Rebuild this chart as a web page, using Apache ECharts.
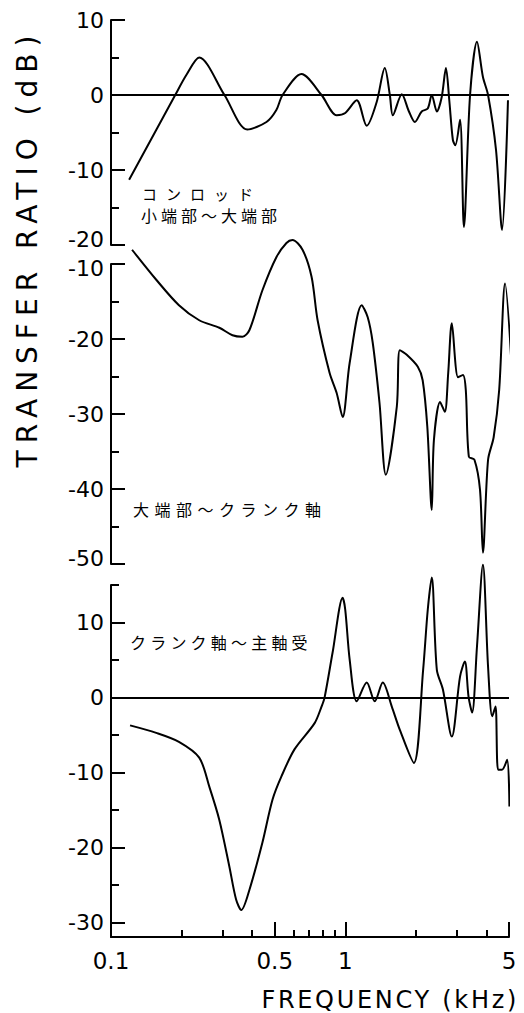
<!DOCTYPE html>
<html><head><meta charset="utf-8">
<script src="https://cdn.jsdelivr.net/npm/echarts@6/dist/echarts.min.js"></script>
<style>html,body{margin:0;padding:0;background:#fff}#c{width:524px;height:1013px}</style>
</head><body><div id="c"></div>
<script>
// ---------- data (frequency in kHz, transfer ratio in dB) ----------
const freq1 = [0.1195,0.188,0.21,0.238,0.305,0.382,0.461,0.508,0.540,0.650,0.792,0.919,1.0,1.119,1.235,1.36,1.475,1.55,1.596,1.743,1.87,1.982,2.12,2.25,2.34,2.46,2.58,2.69,2.78,2.88,2.95,3.09,3.21,3.41,3.65,3.87,4.07,4.4,4.67,4.95];
const ratio1 = [-11.3,0,2.7,5.0,0,-4.6,-3.6,-2.0,0,2.8,0,-2.7,-2.4,-0.7,-4.1,-1.0,3.6,0,-2.7,0.1,-2.2,-3.6,-2.2,-1.8,0,-2.2,-0.3,3.6,-0.7,-6,-6.7,-3.3,-17.6,0,7.1,2.4,0,-7.3,-18,-0.7];

const freq2 = [0.123,0.156,0.195,0.238,0.290,0.330,0.364,0.390,0.443,0.508,0.561,0.595,0.657,0.718,0.762,0.857,0.919,0.975,1.044,1.175,1.247,1.31,1.40,1.49,1.66,1.71,1.83,2.04,2.14,2.24,2.34,2.39,2.54,2.66,2.75,2.85,3.03,3.18,3.27,3.37,3.56,3.76,3.87,4.07,4.3,4.54,4.81,5.15];
const ratio2 = [-8.1,-12.1,-15.5,-17.5,-18.5,-19.5,-19.7,-18.8,-13.5,-9.1,-7.2,-6.8,-8.1,-11.7,-17.5,-24.5,-27.2,-30.4,-23.2,-15.5,-17.1,-20.5,-28.5,-38.1,-29,-21.5,-22.1,-23.7,-25.5,-31.7,-42.8,-33.5,-28.4,-29.7,-24.6,-17.9,-25.1,-24.8,-26.8,-35.7,-36.1,-40.1,-48.5,-36.1,-33.1,-26.8,-12.6,-24.5];

const freq3 = [0.1206,0.156,0.195,0.238,0.263,0.290,0.320,0.342,0.360,0.390,0.443,0.489,0.534,0.607,0.74,0.792,0.816,0.883,0.975,1.0,1.044,1.119,1.235,1.336,1.446,1.58,1.71,1.963,2.15,2.25,2.34,2.46,2.61,2.85,3.09,3.24,3.36,3.48,3.65,3.87,4.07,4.24,4.38,4.49,4.67,4.91,5.02];
const ratio3 = [-3.7,-4.7,-5.9,-8,-11.9,-16.3,-22.5,-26.9,-28.3,-25.6,-19.3,-13.6,-10.5,-6.9,-3.4,-1.2,0,6,13.3,11.7,5.1,-0.5,2,-0.5,2,-1.2,-4.3,-8.7,3.7,11.7,16,3.7,1.1,-5.2,2.8,4.8,0.1,-2,6.8,17.7,4.1,-2.5,-1.2,-9.6,-9.6,-8.3,-14.5];

// ---------- tick values / labels ----------
const xMinorTicks = [0.2,0.3,0.4,0.6,0.7,0.8,0.9,2,3,4];
const xMajorTicks = [0.5,1,5];
const xTickLabels = [0.1,0.5,1,5];

const y1Minor = [10,5,0,-5,-10,-15,-20];
const y1Labels = [10,0,-10,-20];
const y2Minor = [-10,-15,-20,-25,-30,-35,-40,-45,-50];
const y2Labels = [-10,-20,-30,-40,-50];
const y3Minor = [15,10,5,0,-5,-10,-15,-20,-25,-30];
const y3Labels = [10,0,-10,-20,-30];

const panelNotes = [['コンロッド','小端部〜大端部'],['大端部〜クランク軸'],['クランク軸〜主軸受']];
const yTitle = 'TRANSFER RATIO (dB)';
const xTitle = 'FREQUENCY (kHz)';

const pairs = (f, v) => f.map((x, i) => [x, v[i]]);

// ---------- layout ----------
const L = 111, W = 398;
const grids = [
  {left: L, width: W, top: 20, height: 225},
  {left: L, width: W, top: 264, height: 300},
  {left: L, width: W, top: 585, height: 352}
];
const yRanges = [[-20,10],[-50,-10],[-31.9,15]];
const yMinors = [y1Minor, y2Minor, y3Minor];
const yLabs = [y1Labels, y2Labels, y3Labels];
// labels nudged apart where two panels meet: value -> style key
const nudges = [{'-20':'up'}, {'-10':'dn', '-50':'up'}, {}];
const AX = {color:'#000', width:2};
const LABEL_FONT = 'DejaVu Sans';

const xAxis = [];
for (let g = 0; g < 3; g++) {
  xAxis.push({gridIndex:g, type:'log', logBase:10, min:0.1, max:5, show: g === 2, position:'bottom',
    axisLine:{show:true, onZero:false, lineStyle:AX}, splitLine:{show:false},
    axisTick:{show:true, inside:true, length:7, lineStyle:AX, customValues:xMinorTicks},
    axisLabel:{show:false}});
}
xAxis.push({gridIndex:2, type:'log', logBase:10, min:0.1, max:5, position:'bottom',
  axisLine:{show:false, onZero:false}, splitLine:{show:false},
  axisTick:{show:true, inside:true, length:15, lineStyle:AX, customValues:xMajorTicks},
  axisLabel:{show:true, customValues:xTickLabels, margin:12, color:'#000', fontSize:23, fontFamily:LABEL_FONT,
    formatter: v => String(Math.round(v*10)/10)}});

const yAxis = [];
for (let g = 0; g < 3; g++) {
  const nd = nudges[g];
  yAxis.push({gridIndex:g, type:'value', position:'left', min:yRanges[g][0], max:yRanges[g][1],
    axisLine:{show:true, onZero:false, lineStyle:AX}, splitLine:{show:false},
    axisTick:{show:true, inside:true, length:8, lineStyle:AX, customValues:yMinors[g]},
    axisLabel:{show:false}});
  yAxis.push({gridIndex:g, type:'value', position:'left', min:yRanges[g][0], max:yRanges[g][1],
    axisLine:{show:false, onZero:false}, splitLine:{show:false},
    axisTick:{show:true, inside:true, length:14, lineStyle:AX, customValues:yLabs[g]},
    axisLabel:{show:true, customValues:yLabs[g], margin:7, color:'#000', fontSize:22, fontFamily:LABEL_FONT,
      formatter: v => { const k = nd[String(v)]; return k ? '{' + k + '|' + v + '}' : String(v); },
      rich:{up:{fontSize:22, fontFamily:LABEL_FONT, color:'#000', padding:[0,0,12,0]},
            dn:{fontSize:22, fontFamily:LABEL_FONT, color:'#000', padding:[8,0,0,0]}}}});
}

const zeroLine = {silent:true, symbol:['none','none'], label:{show:false},
  lineStyle:{color:'#000', width:2, type:'solid'}, data:[{yAxis:0}]};
const lineSeries = (xi, yi, data, withZero) => ({
  type:'line', xAxisIndex:xi, yAxisIndex:yi, data, smooth:0.3, symbol:'none', clip:false,
  lineStyle:{color:'#000', width:2}, markLine: withZero ? zeroLine : undefined
});

const JP = '"Noto Sans CJK JP"';
const graphic = [
  {type:'text', x:27, y:248, rotation:Math.PI/2, style:{text:yTitle, font:'28px "DejaVu Sans"', fill:'#000', align:'center', verticalAlign:'middle'}},
  {type:'text', x:519, y:1000, style:{text:xTitle, font:'24px "DejaVu Sans"', fill:'#000', align:'right', verticalAlign:'middle'}},
  {type:'text', x:142, y:193, style:{text:panelNotes[0][0], font:'15px '+JP, fill:'#000', align:'left', verticalAlign:'middle'}},
  {type:'text', x:141, y:215, style:{text:panelNotes[0][1], font:'16px '+JP, fill:'#000', align:'left', verticalAlign:'middle'}},
  {type:'text', x:133, y:509, style:{text:panelNotes[1][0], font:'16px '+JP, fill:'#000', align:'left', verticalAlign:'middle'}},
  {type:'text', x:130, y:642, style:{text:panelNotes[2][0], font:'16px '+JP, fill:'#000', align:'left', verticalAlign:'middle'}}
];

const chart = echarts.init(document.getElementById('c'), null, {renderer:'svg'});
chart.setOption({
  animation:false, backgroundColor:'#fff',
  grid: grids, xAxis, yAxis, graphic,
  series: [
    lineSeries(0, 0, pairs(freq1, ratio1), true),
    lineSeries(1, 2, pairs(freq2, ratio2), false),
    lineSeries(3, 4, pairs(freq3, ratio3), true)
  ]
});

const spacing = {};
spacing[yTitle] = 7; spacing[xTitle] = 2.7;
spacing[panelNotes[0][0]] = 9; spacing[panelNotes[0][1]] = 4;
spacing[panelNotes[1][0]] = 5.5; spacing[panelNotes[2][0]] = 4.2;
function applySpacing(){
  document.querySelectorAll('#c svg text').forEach(t => {
    const s = spacing[t.textContent];
    if (s != null) t.setAttribute('letter-spacing', s + 'px');
  });
}
applySpacing();
chart.on('finished', applySpacing);
setTimeout(applySpacing, 50);
</script></body></html>
